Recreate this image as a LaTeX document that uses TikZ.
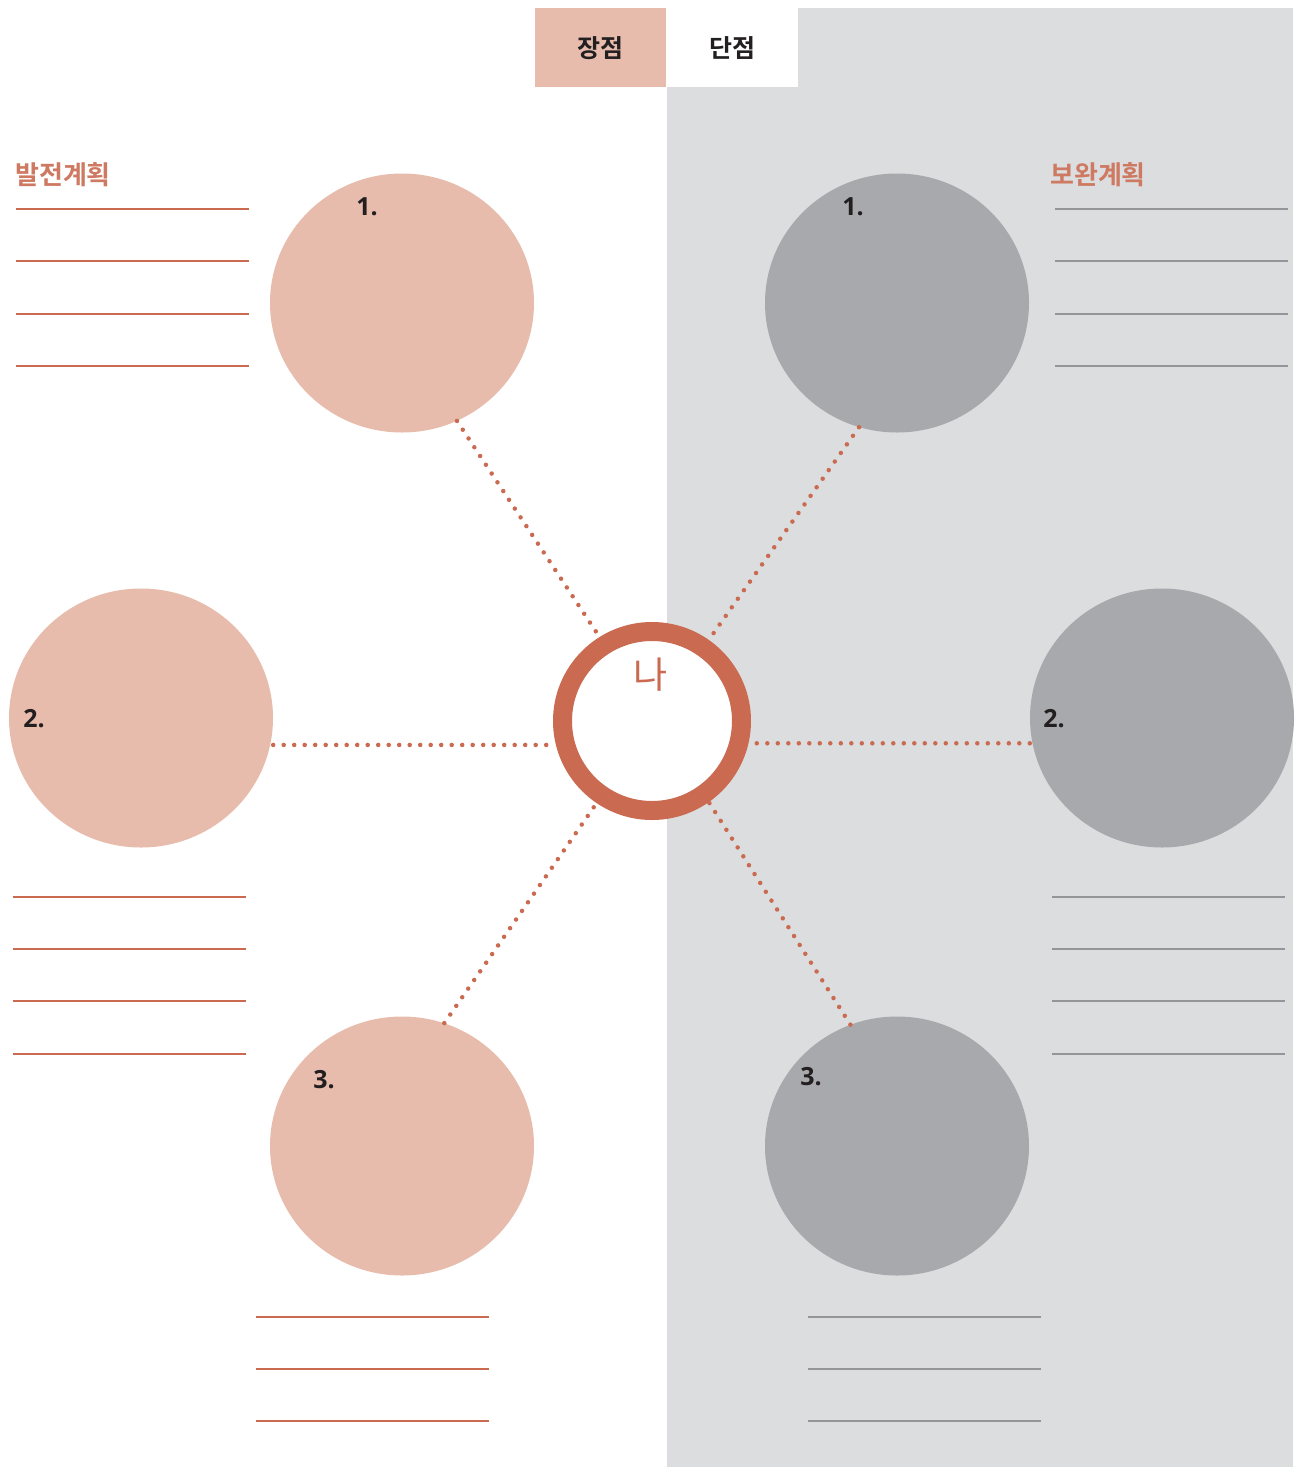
\documentclass[tikz,border=0pt]{standalone}
\usepackage{fontspec}
\setmainfont{Open Sans}
\newfontfamily\kr{Noto Sans CJK KR}
\newfontfamily\krb{Noto Sans CJK KR Bold}
\newfontfamily\krm{Noto Sans CJK KR Medium}
\usetikzlibrary{shapes.geometric}
\definecolor{pinkc}{HTML}{E8BCAC}
\definecolor{grayc}{HTML}{A8A9AC}
\definecolor{panelc}{HTML}{DCDDDF}
\definecolor{orangec}{HTML}{C96A51}
\definecolor{linegray}{HTML}{939598}
\definecolor{darktext}{HTML}{231F20}
\tikzset{
  bubble/.style={ellipse, minimum width=264pt, minimum height=259pt, inner sep=0pt, draw=none},
  pinkbubble/.style={bubble, fill=pinkc},
  graybubble/.style={bubble, fill=grayc},
  numlabel/.style={font=\bfseries\fontsize{25}{25}\selectfont, text=darktext, inner sep=0pt},
  dotline/.style={draw=orangec, line width=4.5pt, line cap=round, dash pattern=on 0pt off 10.5pt},
  oline/.style={draw=orangec, line width=2.5pt},
  gline/.style={draw=linegray, line width=2.5pt},
  tabtext/.style={font=\krb\fontsize{25}{25}\selectfont, text=darktext, inner sep=0pt},
  plantext/.style={font=\krb\fontsize{26}{26}\selectfont, text=orangec!90!white, inner sep=0pt, anchor=west}
}
\begin{document}
\begin{tikzpicture}[x=1pt,y=-1pt]
\useasboundingbox (0,0) rectangle (1301,1467);
\fill[white] (0,0) rectangle (1301,1467);
% right panel
\fill[panelc] (667,8) rectangle (1293,1467);
% tabs
\fill[pinkc] (535,8) rectangle (666,87);
\fill[white] (666,8) rectangle (798,87);
\node[tabtext] (tabA) at (600,48) {장점};
\node[tabtext] (tabB) at (732,48) {단점};
% plan labels
\node[plantext] (planL) at (15,175) {발전계획};
\node[plantext] (planR) at (1050,175) {보완계획};
% bubbles
\node[pinkbubble] (L1) at (402,303) {};
\node[pinkbubble] (L2) at (141,718) {};
\node[pinkbubble] (L3) at (402,1146) {};
\node[graybubble] (R1) at (897,303) {};
\node[graybubble] (R2) at (1162,718) {};
\node[graybubble] (R3) at (897,1146) {};
% centre ring
\node[circle, draw=orangec, line width=19pt, fill=white, minimum size=179pt, inner sep=0pt] (C) at (652,721) {};
\node[font=\kr\fontsize{37}{37}\selectfont, text=orangec, inner sep=0pt] (me) at (651,675) {나};
% numbers
\node[numlabel] (n1L) at (367,207) {1.};
\node[numlabel] (n2L) at (34,719) {2.};
\node[numlabel] (n3L) at (324,1080) {3.};
\node[numlabel] (n1R) at (853,207) {1.};
\node[numlabel] (n2R) at (1054,719) {2.};
\node[numlabel] (n3R) at (811,1077) {3.};
% dotted connectors
\draw[dotline] (L1.-65.2) -- (C.122.9);
\draw[dotline] (R1.-107.5) -- (C.55.4);
\draw[dotline] (C.-166.8 -| L2.east) -- (C.-166.8);
\draw[dotline] (C.-13.2 -| R2.west) -- (C.-13.2);
\draw[dotline] (L3.71.2) -- (C.-124.8);
\draw[dotline] (R3.111.6) -- (C.-55.7);
% writing lines left
\foreach \y in {209,261,314,366} { \draw[oline] (16,\y) -- (249,\y); }
\foreach \y in {897,949,1001,1054} { \draw[oline] (13,\y) -- (246,\y); }
\foreach \y in {1317,1369,1421} { \draw[oline] (256,\y) -- (489,\y); }
% writing lines right
\foreach \y in {209,261,314,366} { \draw[gline] (1055,\y) -- (1288,\y); }
\foreach \y in {897,949,1001,1054} { \draw[gline] (1052,\y) -- (1285,\y); }
\foreach \y in {1317,1369,1421} { \draw[gline] (808,\y) -- (1041,\y); }
\end{tikzpicture}
\end{document}
